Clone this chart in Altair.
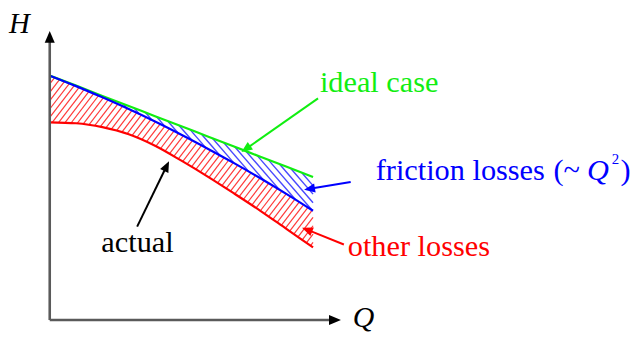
import altair as alt
import numpy as np
import pandas as pd

# ---------------- data ----------------
Q_vals = [0.0, 0.1, 0.2, 0.3, 0.4, 0.5, 0.6, 0.7, 0.8, 0.9, 1.0]
H_ideal = [1.000, 0.959, 0.917, 0.876, 0.834, 0.793, 0.751, 0.710, 0.668, 0.627, 0.585]
H_friction = [1.000, 0.957, 0.911, 0.863, 0.812, 0.758, 0.701, 0.642, 0.580, 0.515, 0.447]
H_actual = [0.809, 0.805, 0.789, 0.760, 0.713, 0.652, 0.587, 0.518, 0.447, 0.372, 0.297]

series_names = ["ideal", "friction", "actual"]
series_colors = ["#11ee11", "#0000ff", "#ff0000"]

# annotation texts (upright)
label_text = ["ideal case", "friction losses", "(~", "2", ")", "other losses", "actual"]
label_Q = [1.026, 1.238, 1.913, 2.134, 2.168, 1.132, 0.196]
label_H = [0.931, 0.573, 0.573, 0.638, 0.573, 0.260, 0.280]
label_color = ["#11ee11", "#0000ff", "#0000ff", "#0000ff", "#0000ff", "#ff0000", "#000000"]
label_size = [30.5, 30.5, 30.5, 15, 30.5, 30.5, 30.5]

# italic texts
italic_text = ["H", "Q", "Q"]
italic_Q = [-0.155, 1.151, 2.040]
italic_H = [1.175, -0.030, 0.573]
italic_color = ["#000000", "#000000", "#0000ff"]
italic_size = [29, 30, 30.5]

# annotation arrows (tail -> tip)
arrow_tail_Q = [1.019, 1.143, 1.117, 0.332]
arrow_tail_H = [0.907, 0.565, 0.309, 0.382]
arrow_tip_Q = [0.728, 0.966, 0.958, 0.453]
arrow_tip_H = [0.687, 0.533, 0.378, 0.650]
arrow_color = ["#11ee11", "#0000ff", "#ff0000", "#000000"]

# coordinate axes (origin -> arrow tip)
axis_tip_Q = [0.0, 1.106]
axis_tip_H = [1.183, 0.0]

# ---------------- layout ----------------
W, Hh = 623, 320
SX, SY = 265.0, 246.0          # pixels per data unit
OX, OY = 42.0, 313.0           # origin offset inside plot area (pixels)
xscale = alt.Scale(domain=[-OX / SX, (W - OX) / SX], nice=False, zero=False)
yscale = alt.Scale(domain=[-(Hh - OY) / SY, OY / SY], nice=False, zero=False)

def X(f="Q"):
    return alt.X(f + ":Q", scale=xscale, axis=None)

def Y(f="H"):
    return alt.Y(f + ":Q", scale=yscale, axis=None)

# ---------------- curves ----------------
rows = []
for name, vals in zip(series_names, [H_ideal, H_friction, H_actual]):
    for q, h in zip(Q_vals, vals):
        rows.append(dict(series=name, Q=q, H=h))
curve_df = pd.DataFrame(rows)

# ---------------- hatching ----------------
def hatch(upper, lower, slope, step):
    qs = np.linspace(0, 1, 3001)
    xs = qs * SX
    yu = -np.interp(qs, Q_vals, upper) * SY
    yl = -np.interp(qs, Q_vals, lower) * SY
    c_all = np.concatenate([yu - slope * xs, yl - slope * xs])
    segs = []
    for c in np.arange(c_all.min(), c_all.max() + step, step):
        yline = slope * xs + c
        inside = (yline >= yu - 0.01) & (yline <= yl + 0.01)
        idx = np.where(inside)[0]
        if len(idx) < 2:
            continue
        i0, i1 = idx[0], idx[-1]
        segs.append(dict(Q=qs[i0], H=-yline[i0] / SY, Q2=qs[i1], H2=-yline[i1] / SY))
    return pd.DataFrame(segs)

red_hatch = hatch(H_friction, H_actual, -1.3, 8.4)
blue_hatch = hatch(H_ideal, H_friction, 1.15, 8.6)

# ---------------- arrows ----------------
HEAD = "M0,0L-0.42,1L0.42,1Z"

def arrow_rows(tq, th, pq, ph, colors, head_len):
    lines, heads = [], []
    for a, b, c, d, col in zip(tq, th, pq, ph, colors):
        dx = (c - a) * SX
        dy = -(d - b) * SY
        L = np.hypot(dx, dy)
        ux, uy = dx / L, dy / L
        bq = c - ux * head_len * 0.8 / SX
        bh = d + uy * head_len * 0.8 / SY
        ang = float(np.degrees(np.arctan2(dx, -dy)) % 360)
        lines.append(dict(Q=a, H=b, Q2=bq, H2=bh, col=col))
        heads.append(dict(Q=c, H=d, ang=ang, col=col, s=(2 * head_len) ** 2))
    return pd.DataFrame(lines), pd.DataFrame(heads)

ann_lines, ann_heads = arrow_rows(arrow_tail_Q, arrow_tail_H, arrow_tip_Q, arrow_tip_H,
                                  arrow_color, 11)
ax_lines, ax_heads = arrow_rows([0.0, 0.0], [0.0, 0.0], axis_tip_Q, axis_tip_H,
                                ["#000000", "#000000"], 12)
ax_lines["col"] = "#5a5a5a"

label_df = pd.DataFrame(dict(t=label_text, Q=label_Q, H=label_H, col=label_color, fs=label_size))
italic_df = pd.DataFrame(dict(t=italic_text, Q=italic_Q, H=italic_H, col=italic_color,
                              fs=italic_size))

# ---------------- layers ----------------
red_h = alt.Chart(red_hatch).mark_rule(color="#ff3a3a", strokeWidth=1.2).encode(
    x=X(), y=Y(), x2="Q2:Q", y2="H2:Q")
blue_h = alt.Chart(blue_hatch).mark_rule(color="#4848ff", strokeWidth=1.4).encode(
    x=X(), y=Y(), x2="Q2:Q", y2="H2:Q")

curves = alt.Chart(curve_df).mark_line(strokeWidth=2.2, interpolate="monotone").encode(
    x=X(), y=Y(),
    color=alt.Color("series:N", scale=alt.Scale(domain=series_names, range=series_colors),
                    legend=None),
    order=alt.Order("Q:Q"),
)

axis_lines = alt.Chart(ax_lines).mark_rule(strokeWidth=2.6).encode(
    x=X(), y=Y(), x2="Q2:Q", y2="H2:Q", color=alt.Color("col:N", scale=None))
ann_l = alt.Chart(ann_lines).mark_rule(strokeWidth=2).encode(
    x=X(), y=Y(), x2="Q2:Q", y2="H2:Q", color=alt.Color("col:N", scale=None))

def heads_layer(df):
    return alt.Chart(df).mark_point(shape=HEAD, filled=True, opacity=1, strokeWidth=0).encode(
        x=X(), y=Y(),
        angle=alt.Angle("ang:Q", scale=None),
        size=alt.Size("s:Q", scale=None),
        color=alt.Color("col:N", scale=None),
    )

labels = alt.Chart(label_df).mark_text(font="Liberation Serif", align="left",
                                       baseline="alphabetic").encode(
    x=X(), y=Y(), text="t:N",
    color=alt.Color("col:N", scale=None),
    size=alt.Size("fs:Q", scale=None),
)
italics = alt.Chart(italic_df).mark_text(font="Liberation Serif", fontStyle="italic",
                                         align="left", baseline="alphabetic").encode(
    x=X(), y=Y(), text="t:N",
    color=alt.Color("col:N", scale=None),
    size=alt.Size("fs:Q", scale=None),
)

chart = alt.layer(
    red_h, blue_h, curves, axis_lines, heads_layer(ax_heads), ann_l, heads_layer(ann_heads),
    labels, italics,
).properties(width=W, height=Hh, padding=0).configure_view(stroke=None)

chart.save("out.html", embed_options={"renderer": "svg", "actions": False})
